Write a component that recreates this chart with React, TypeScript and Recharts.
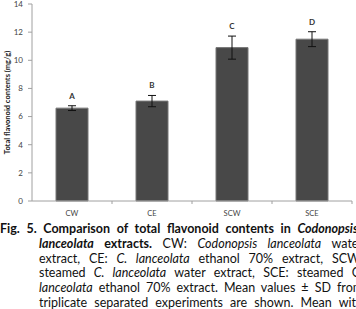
import React from 'react';
import { BarChart, Bar, XAxis, YAxis, ErrorBar, LabelList } from 'recharts';

const categories = ['CW', 'CE', 'SCW', 'SCE'];
const means = [6.6, 7.1, 10.9, 11.5];
const sds = [0.17, 0.4, 0.82, 0.53];
const letters = ['A', 'B', 'C', 'D'];
const yTicks = [0, 2, 4, 6, 8, 10, 12, 14];

// caption lines, each a list of [text, style] ('b' bold, 'i' italic)
const captionLines: Array<Array<[string, string]>> = [
  [['Fig. 5. Comparison of total flavonoid contents in ', 'b'], ['Codonopsis', 'bi']],
  [['lanceolata', 'bi'], [' extracts.', 'b'], [' CW: ', ''], ['Codonopsis lanceolata', 'i'], [' water', '']],
  [['extract, CE: ', ''], ['C. lanceolata', 'i'], [' ethanol 70% extract, SCW:', '']],
  [['steamed ', ''], ['C. lanceolata', 'i'], [' water extract, SCE: steamed C.', '']],
  [['lanceolata', 'i'], [' ethanol 70% extract. Mean values \u00b1 SD from', '']],
  [['triplicate separated experiments are shown. Mean with', '']],
  [['different letters are significantly different (p<0.05).', '']],
];

const data = categories.map((name, i) => ({
  name,
  mean: means[i],
  sd: sds[i],
  letter: letters[i],
}));

const CHART_W = 356;
const CHART_H = 220;
const Y_W = 32;
const M_RIGHT = 4;
const band = (CHART_W - Y_W - M_RIGHT) / categories.length;

const axisFont = 'Lato, "Open Sans", sans-serif';

function XTick(props: any) {
  const { x, y, payload } = props;
  return (
    <g>
      <line x1={x + band / 2} x2={x + band / 2} y1={y} y2={y + 3} stroke="#a0a0a0" />
      <text x={x} y={y + 15} textAnchor="middle" fontSize={7.5} fill="#444" fontFamily={axisFont}>
        {payload.value}
      </text>
    </g>
  );
}

function LetterLabel(props: any) {
  const { x, y, width, height, value, index } = props;
  const errPx = (sds[index] * height) / means[index];
  return (
    <text
      x={x + width / 2}
      y={y - errPx - 7}
      textAnchor="middle"
      fontSize={8}
      fontWeight="bold"
      fill="#333"
      fontFamily={axisFont}
    >
      {value}
    </text>
  );
}

export default function App() {
  return (
    <div
      style={{
        position: 'absolute',
        left: 0,
        top: 0,
        width: 356,
        height: 309,
        overflow: 'hidden',
        background: '#fff',
      }}
    >
      <BarChart
        width={CHART_W}
        height={CHART_H}
        data={data}
        margin={{ top: 4, right: M_RIGHT, bottom: 4, left: 0 }}
        barCategoryGap="30%"
      >
        <XAxis
          dataKey="name"
          height={15}
          stroke="#a0a0a0"
          tickSize={0}
          tickMargin={0}
          tick={<XTick />}
        />
        <YAxis
          width={Y_W}
          domain={[0, 14]}
          ticks={yTicks}
          stroke="#a0a0a0"
          tickSize={4}
          tickMargin={5}
          tick={{ fontSize: 8, fill: '#444', fontFamily: axisFont }}
          label={{
            value: 'Total flavonoid contents (mg/g)',
            angle: -90,
            position: 'center',
            dx: -9,
            fontSize: 7.5,
            fontWeight: 'bold',
            fill: '#222',
            fontFamily: axisFont,
            style: { fontWeight: 'bold', textAnchor: 'middle' },
          }}
        />
        <Bar dataKey="mean" fill="#484848" stroke="#777" strokeWidth={1} isAnimationActive={false}>
          <ErrorBar dataKey="sd" width={4} stroke="#111" strokeWidth={1} direction="y" />
          <LabelList dataKey="letter" content={<LetterLabel />} />
        </Bar>
      </BarChart>
      <div
        style={{
          position: 'absolute',
          left: 0,
          top: 222,
          fontFamily: 'Lato, "Open Sans", sans-serif',
          fontSize: 12.5,
          lineHeight: '14.8px',
          color: '#111',
        }}
      >
        {captionLines.map((segs, li) => (
          <div
            key={li}
            style={{
              marginLeft: li === 0 ? 0 : 39,
              width: li === 0 ? 358 : 324,
              textAlign: 'justify',
              textAlignLast: 'justify',
              whiteSpace: 'nowrap',
            }}
          >
            {segs.map(([t, s], si) => (
              <span
                key={si}
                style={{
                  fontWeight: s.includes('b') ? 'bold' : 'normal',
                  fontStyle: s.includes('i') ? 'italic' : 'normal',
                }}
              >
                {t}
              </span>
            ))}
          </div>
        ))}
      </div>
    </div>
  );
}
